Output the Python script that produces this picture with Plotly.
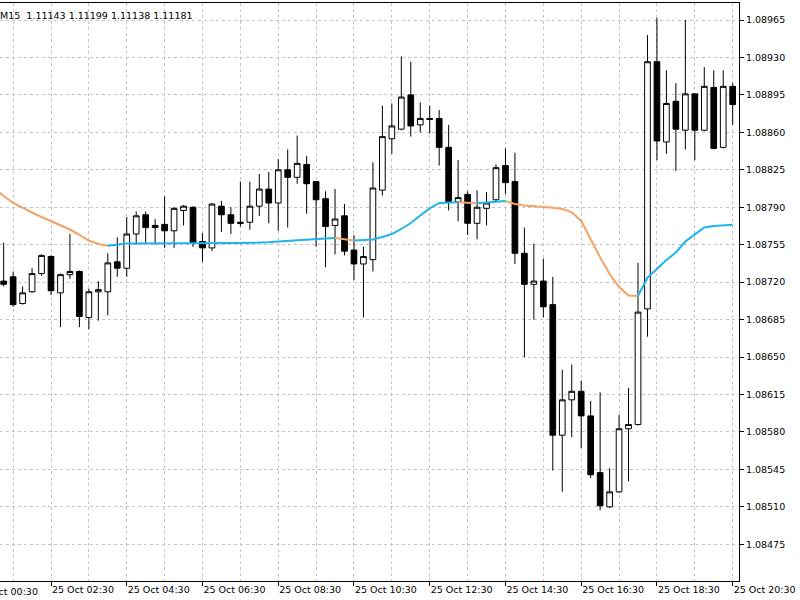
import plotly.graph_objects as go

chart_date = "2016-10-25"
bar_times = [
    "01:15", "01:30", "01:45", "02:00", "02:15", "02:30", "02:45", "03:00", "03:15", "03:30",
    "03:45", "04:00", "04:15", "04:30", "04:45", "05:00", "05:15", "05:30", "05:45", "06:00",
    "06:15", "06:30", "06:45", "07:00", "07:15", "07:30", "07:45", "08:00", "08:15", "08:30",
    "08:45", "09:00", "09:15", "09:30", "09:45", "10:00", "10:15", "10:30", "10:45", "11:00",
    "11:15", "11:30", "11:45", "12:00", "12:15", "12:30", "12:45", "13:00", "13:15", "13:30",
    "13:45", "14:00", "14:15", "14:30", "14:45", "15:00", "15:15", "15:30", "15:45", "16:00",
    "16:15", "16:30", "16:45", "17:00", "17:15", "17:30", "17:45", "18:00", "18:15", "18:30",
    "18:45", "19:00", "19:15", "19:30", "19:45", "20:00", "20:15", "20:30",
]

opens = [
    1.08721, 1.08725, 1.08700, 1.08711, 1.08728, 1.08744, 1.08710, 1.08727, 1.08730, 1.08687,
    1.08711, 1.08711, 1.08739, 1.08733, 1.08765, 1.08783, 1.08773, 1.08774, 1.08768, 1.08787,
    1.08790, 1.08758, 1.08752, 1.08791, 1.08783, 1.08776, 1.08776, 1.08791, 1.08807, 1.08794,
    1.08825, 1.08818, 1.08830, 1.08814, 1.08798, 1.08773, 1.08782, 1.08750, 1.08737, 1.08741,
    1.08806, 1.08854, 1.08863, 1.08895, 1.08867, 1.08873, 1.08873, 1.08846, 1.08795, 1.08802,
    1.08775, 1.08789, 1.08797, 1.08829, 1.08814, 1.08747, 1.08718, 1.08721, 1.08699, 1.08577,
    1.08610, 1.08618, 1.08595, 1.08542, 1.08510, 1.08524, 1.08583, 1.08587, 1.08695, 1.08926,
    1.08851, 1.08889, 1.08862, 1.08896, 1.08862, 1.08902, 1.08846, 1.08903,
]
highs = [
    1.08757, 1.08730, 1.08716, 1.08733, 1.08746, 1.08745, 1.08728, 1.08765, 1.08731, 1.08714,
    1.08721, 1.08747, 1.08762, 1.08781, 1.08786, 1.08786, 1.08779, 1.08800, 1.08790, 1.08792,
    1.08791, 1.08766, 1.08794, 1.08796, 1.08790, 1.08814, 1.08814, 1.08821, 1.08823, 1.08835,
    1.08844, 1.08857, 1.08838, 1.08814, 1.08805, 1.08807, 1.08793, 1.08764, 1.08753, 1.08832,
    1.08885, 1.08887, 1.08931, 1.08926, 1.08888, 1.08885, 1.08881, 1.08867, 1.08834, 1.08805,
    1.08806, 1.08804, 1.08830, 1.08845, 1.08841, 1.08771, 1.08756, 1.08742, 1.08725, 1.08638,
    1.08643, 1.08628, 1.08609, 1.08617, 1.08546, 1.08596, 1.08621, 1.08738, 1.08951, 1.08967,
    1.08918, 1.08906, 1.08965, 1.08896, 1.08921, 1.08918, 1.08918, 1.08906,
]
lows = [
    1.08716, 1.08697, 1.08699, 1.08710, 1.08726, 1.08708, 1.08678, 1.08723, 1.08678, 1.08676,
    1.08684, 1.08689, 1.08725, 1.08725, 1.08755, 1.08756, 1.08755, 1.08752, 1.08752, 1.08773,
    1.08753, 1.08739, 1.08749, 1.08767, 1.08765, 1.08772, 1.08769, 1.08782, 1.08775, 1.08768,
    1.08771, 1.08812, 1.08784, 1.08753, 1.08734, 1.08746, 1.08745, 1.08722, 1.08687, 1.08730,
    1.08801, 1.08840, 1.08862, 1.08856, 1.08860, 1.08859, 1.08829, 1.08787, 1.08777, 1.08764,
    1.08760, 1.08773, 1.08796, 1.08802, 1.08737, 1.08650, 1.08685, 1.08687, 1.08544, 1.08524,
    1.08575, 1.08565, 1.08537, 1.08507, 1.08509, 1.08523, 1.08534, 1.08586, 1.08669, 1.08834,
    1.08840, 1.08824, 1.08844, 1.08834, 1.08861, 1.08844, 1.08845, 1.08867,
]
closes = [
    1.08718, 1.08699, 1.08710, 1.08728, 1.08745, 1.08712, 1.08727, 1.08730, 1.08688, 1.08711,
    1.08713, 1.08738, 1.08733, 1.08765, 1.08782, 1.08771, 1.08771, 1.08768, 1.08789, 1.08791,
    1.08757, 1.08752, 1.08793, 1.08783, 1.08775, 1.08775, 1.08791, 1.08807, 1.08794, 1.08825,
    1.08818, 1.08831, 1.08812, 1.08797, 1.08772, 1.08779, 1.08749, 1.08737, 1.08744, 1.08808,
    1.08856, 1.08866, 1.08893, 1.08866, 1.08873, 1.08872, 1.08846, 1.08795, 1.08799, 1.08775,
    1.08790, 1.08794, 1.08827, 1.08813, 1.08747, 1.08718, 1.08721, 1.08697, 1.08577, 1.08610,
    1.08618, 1.08595, 1.08540, 1.08511, 1.08524, 1.08583, 1.08587, 1.08692, 1.08926, 1.08852,
    1.08887, 1.08863, 1.08896, 1.08862, 1.08903, 1.08845, 1.08903, 1.08886,
]
# moving average: one extra point for the 01:00 bar, just off the left edge
ma_times = ["01:00"] + bar_times
moving_average = [
    1.088080,
    1.088005, 1.087940, 1.087893, 1.087851, 1.087809, 1.087771, 1.087729, 1.087692, 1.087641, 1.087589,
    1.087557, 1.087541, 1.087552, 1.087561, 1.087561, 1.087562, 1.087562, 1.087563, 1.087563, 1.087563,
    1.087564, 1.087564, 1.087564, 1.087565, 1.087565, 1.087565, 1.087566, 1.087566, 1.087572, 1.087579,
    1.087586, 1.087591, 1.087597, 1.087603, 1.087608, 1.087613, 1.087600, 1.087589, 1.087592, 1.087599,
    1.087622, 1.087650, 1.087697, 1.087753, 1.087823, 1.087890, 1.087940, 1.087946, 1.087947, 1.087942,
    1.087937, 1.087943, 1.087949, 1.087958, 1.087930, 1.087916, 1.087910, 1.087902, 1.087896, 1.087884,
    1.087853, 1.087772, 1.087594, 1.087430, 1.087276, 1.087155, 1.087075, 1.087071, 1.087243, 1.087323,
    1.087407, 1.087477, 1.087580, 1.087647, 1.087711, 1.087725, 1.087731, 1.087737,
]
price_ticks = [1.08475, 1.08510, 1.08545, 1.08580, 1.08615, 1.08650, 1.08685, 1.08720,
               1.08755, 1.08790, 1.08825, 1.08860, 1.08895, 1.08930, 1.08965]
header_text = "M15\u00a0 1.11143 1.11199 1.11138 1.11181"
clipped_first_tick_label = "25 Oct 00:30"

x = [f"{chart_date} {t}" for t in bar_times]
ma_x = [f"{chart_date} {t}" for t in ma_times]

# split moving average into rising (blue) / falling (orange) runs
up_x, up_y, dn_x, dn_y = [], [], [], []
prev_state = None
for i in range(1, len(ma_x)):
    rising = moving_average[i] >= moving_average[i - 1]
    xs, ys = (up_x, up_y) if rising else (dn_x, dn_y)
    if prev_state == rising:
        xs.append(ma_x[i]); ys.append(moving_average[i])
    else:
        if xs:
            xs.append(None); ys.append(None)
        xs += [ma_x[i - 1], ma_x[i]]; ys += [moving_average[i - 1], moving_average[i]]
    prev_state = rising

fig = go.Figure()
fig.add_trace(go.Candlestick(
    x=x, open=opens, high=highs, low=lows, close=closes,
    increasing=dict(line=dict(color="black", width=1), fillcolor="white"),
    decreasing=dict(line=dict(color="black", width=1), fillcolor="black"),
    whiskerwidth=0, showlegend=False,
))
fig.add_trace(go.Scatter(x=dn_x, y=dn_y, mode="lines", line=dict(color="#f2a365", width=2),
                         showlegend=False, hoverinfo="skip"))
fig.add_trace(go.Scatter(x=up_x, y=up_y, mode="lines", line=dict(color="#1cb5ea", width=2),
                         showlegend=False, hoverinfo="skip"))

grid_color = "#c4c4c4"
x_start = f"{chart_date} 01:09:12"
x_end = f"{chart_date} 20:40:00"
fig.update_layout(
    width=800, height=600,
    margin=dict(l=0, r=61, t=3, b=19),
    paper_bgcolor="white", plot_bgcolor="white",
    font=dict(family="DejaVu Sans", size=9.5, color="black"),
    showlegend=False,
    boxgap=0.4, boxgroupgap=0.0,
    xaxis=dict(
        type="date",
        range=[x_start, x_end],
        rangeslider=dict(visible=False),
        showline=True, linecolor="black", linewidth=1, mirror=True,
        ticks="outside", ticklen=4, tickcolor="black",
        tick0=f"{chart_date} 00:30", dtick=7200000, tickformat="%d %b %H:%M",
        ticklabelposition="outside right",
        showgrid=True, gridcolor=grid_color, griddash="3px,3px", gridwidth=1,
        minor=dict(dtick=3600000, tick0=f"{chart_date} 00:30", showgrid=True,
                   gridcolor=grid_color, griddash="3px,3px", gridwidth=1, ticks=""),
        zeroline=False,
    ),
    yaxis=dict(
        side="right",
        range=[1.084407, 1.089809],
        tickvals=price_ticks, tickformat=".5f",
        ticks="outside", ticklen=4, tickcolor="black",
        showline=True, linecolor="black", linewidth=1,
        showgrid=True, gridcolor=grid_color, griddash="3px,3px", gridwidth=1,
        zeroline=False,
    ),
    annotations=[
        dict(text=header_text, xref="paper", yref="paper", x=0, y=1,
             xanchor="left", yanchor="top", showarrow=False, xshift=-2, yshift=-5,
             font=dict(family="DejaVu Sans", size=9.5, color="black")),
        # the 00:30 label of the axis, whose tick lies just left of the plot and is cut by the page edge
        dict(text=clipped_first_tick_label, xref="paper", yref="paper",
             x=-25.3 / 739, y=0, xanchor="left", yanchor="top", showarrow=False,
             xshift=-1, yshift=-3,
             font=dict(family="DejaVu Sans", size=9.5, color="black")),
    ],
)

fig.write_html("out.html")
